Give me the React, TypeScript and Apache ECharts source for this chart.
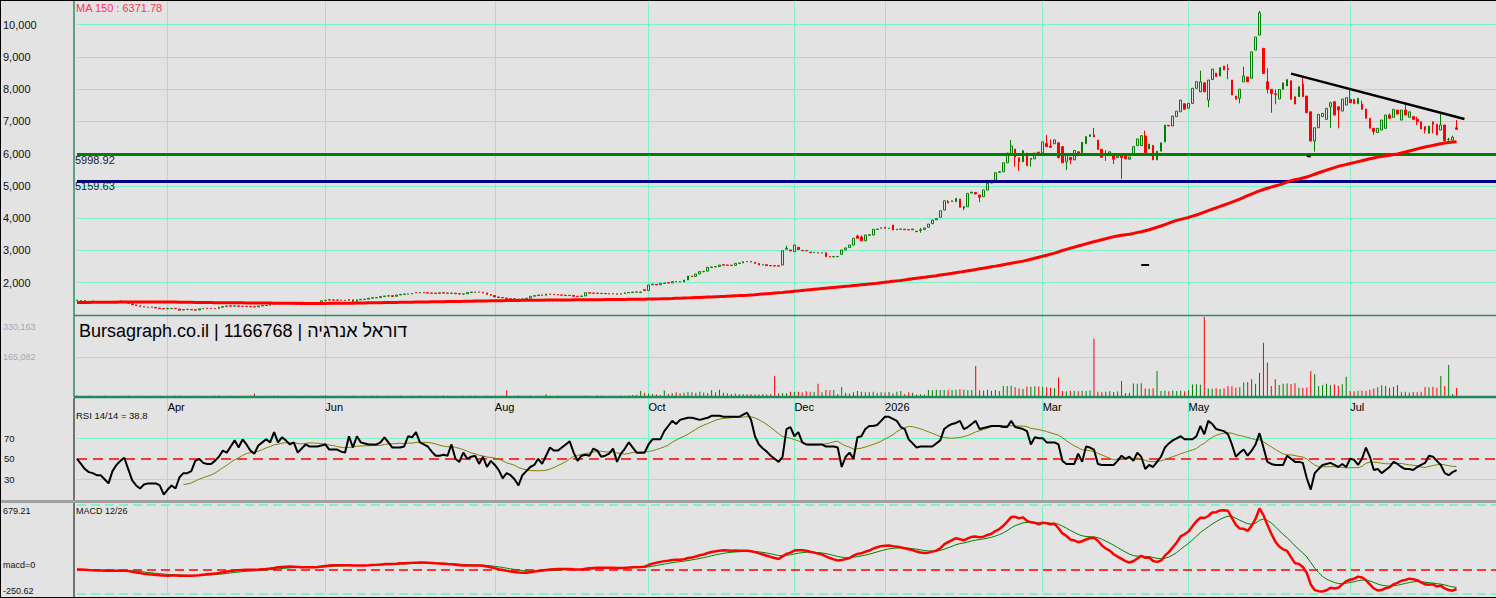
import React, { useEffect, useRef } from 'react';
import * as echarts from 'echarts';

// ---------- data ----------
const opens = [
  1450,1440,1448,1418,1428,1408,1418,1408,1412,1418,
  1418,1428,1420,1395,1350,1315,1285,1258,1238,1248,
  1235,1215,1200,1192,1198,1205,1185,1155,1168,1172,
  1160,1155,1190,1212,1208,1203,1200,1242,1262,1283,
  1276,1282,1272,1268,1262,1258,1252,1282,1294,1302,
  1332,1362,1388,1380,1372,1362,1340,1332,1326,1342,
  1362,1377,1388,1442,1472,1468,1466,1462,1458,1452,
  1470,1425,1472,1484,1492,1522,1534,1542,1572,1588,
  1598,1580,1622,1640,1648,1656,1698,1686,1698,1690,
  1682,1678,1672,1690,1682,1672,1678,1660,1648,1658,
  1700,1712,1706,1712,1685,1638,1605,1560,1542,1528,
  1508,1502,1495,1482,1500,1522,1582,1602,1622,1612,
  1652,1642,1632,1622,1615,1600,1608,1582,1576,1592,
  1690,1682,1678,1672,1668,1660,1652,1658,1646,1662,
  1690,1700,1708,1700,1785,1760,1935,1950,1935,1980,
  2005,1995,2040,2032,2025,2085,2210,2195,2275,2340,
  2360,2475,2490,2505,2560,2550,2545,2540,2600,2615,
  2650,2660,2635,2600,2550,2560,2535,2528,2524,2550,
  3040,3015,2963,3100,3005,2998,2950,2932,2935,2918,
  2932,2810,2802,2808,2880,3020,3090,3170,3450,3420,
  3300,3470,3480,3650,3690,3720,3685,3790,3640,3655,
  3660,3650,3640,3600,3620,3650,3720,3830,3950,4030,
  4255,4520,4520,4512,4596,4310,4357,4780,4800,4720,
  4667,4875,5090,5185,5420,5443,5720,5960,6145,5876,
  5750,6020,5820,5840,6050,6030,6320,6240,6310,6340,
  6220,5750,5890,5810,6060,6030,6310,6535,6580,6425,
  6140,5960,5975,5965,5880,5940,6000,5830,5960,6250,
  6250,6550,6150,6260,5810,6080,6370,6880,6860,7150,
  7300,7550,7410,7560,8030,7920,8200,7665,8300,8500,
  8410,8720,8640,8285,7790,7720,8230,8380,8340,9215,
  9680,9270,8233,7997,7860,7700,7990,8100,8264,7768,
  7768,8161,7789,7302,6394,6806,7150,7066,7457,7612,
  7457,7324,7510,7686,7686,7550,7532,7386,7098,6788,
  6660,6735,6788,7200,7129,7355,7045,7355,7130,7150,
  7066,6993,6840,6633,6990,6912,6735,6890,6440,6425,
  6806,
];

const closes = [
  1465,1450,1440,1425,1420,1415,1410,1415,1420,1425,
  1425,1420,1410,1360,1320,1290,1260,1250,1245,1240,
  1217,1200,1190,1205,1206,1195,1150,1170,1175,1160,
  1150,1190,1200,1205,1200,1195,1240,1260,1280,1275,
  1285,1270,1265,1262,1255,1250,1280,1295,1300,1330,
  1360,1385,1380,1370,1365,1340,1330,1325,1340,1360,
  1375,1385,1440,1455,1465,1460,1460,1455,1450,1480,
  1420,1470,1485,1490,1520,1535,1540,1570,1590,1595,
  1575,1620,1640,1650,1655,1670,1690,1695,1690,1680,
  1675,1670,1690,1680,1675,1680,1660,1650,1655,1700,
  1710,1705,1715,1690,1640,1610,1560,1540,1530,1505,
  1500,1495,1480,1500,1520,1580,1600,1620,1610,1650,
  1640,1630,1620,1615,1600,1610,1580,1575,1590,1690,
  1680,1675,1670,1665,1660,1650,1660,1645,1660,1690,
  1700,1710,1715,1712,1760,1930,1961,1930,1983,1992,
  1990,2035,2030,2022,2085,2209,2190,2271,2343,2355,
  2478,2490,2500,2550,2545,2540,2535,2602,2612,2653,
  2658,2640,2600,2550,2562,2530,2525,2520,2515,2994,
  3070,2985,3170,3030,2994,2988,2932,2942,2920,2928,
  2807,2800,2810,2818,3015,3080,3170,3377,3380,3300,
  3480,3490,3657,3665,3705,3690,3695,3635,3660,3665,
  3645,3640,3665,3583,3640,3700,3820,3945,3990,4233,
  4543,4470,4545,4617,4340,4360,4770,4810,4750,4650,
  4875,5083,5110,5411,5443,5720,6020,6240,5890,5750,
  6100,5630,5860,6020,5950,6370,6220,6200,6430,5875,
  5720,5960,5810,6100,6000,6360,6535,6590,6520,6135,
  5890,5990,6060,5830,5930,5880,5840,5900,6220,6460,
  6560,6030,6300,5810,6080,6340,6890,6860,7170,7320,
  7665,7380,7560,8030,8235,8230,7920,8285,8625,8390,
  8670,8600,8610,7820,7690,8000,8410,8230,9160,9620,
  10370,8490,7997,7870,7842,7990,8200,8300,7686,7541,
  8078,7768,7271,6394,6806,7221,7253,7408,7582,7200,
  7355,7696,7737,7582,7550,7720,7377,7098,6788,6683,
  6788,7045,7200,7100,7377,7230,7355,7200,7300,7066,
  6993,6766,6735,6859,6910,6580,6890,6403,6450,6510,
  6757,
];

const wickHigh: Record<number, number> = {
  180: 3150, 198: 3490, 199: 3470, 214: 3700, 221: 4560, 237: 6430, 246: 6580, 247: 6440,
  258: 6800, 261: 6110, 271: 6715, 285: 8575, 292: 8780, 296: 8700, 300: 10430, 302: 8650,
  304: 7990, 311: 8400, 318: 7612, 323: 7997, 326: 7650, 333: 7250, 337: 7540, 340: 7150,
  346: 7253, 348: 6500, 349: 6560, 350: 7045,
};
const wickLow: Record<number, number> = {
  214: 3550, 225: 4250, 229: 4500, 238: 5600, 239: 5470, 242: 5600, 251: 5500, 252: 5680,
  261: 5780, 263: 5680, 265: 5216, 287: 7440, 292: 8310, 295: 7560, 302: 7870, 303: 7271,
  304: 7530, 314: 6063, 318: 6800, 320: 6788, 329: 6590, 333: 7080, 340: 6890, 342: 6630,
  344: 6630, 348: 6400,
};

// volume in thousands of shares
const volumesK = [
  6,4,3,5,2,4,3,5,4,3,
  4,3,5,6,4,5,3,4,2,3,
  4,5,3,4,2,5,6,3,4,3,
  5,4,3,2,4,5,6,4,3,5,
  4,3,5,4,6,14,4,3,5,4,
  6,5,4,3,4,5,3,4,5,4,
  3,4,5,6,4,3,4,5,3,4,
  5,4,3,5,4,6,5,4,3,5,
  4,5,6,4,3,5,4,6,5,4,
  3,5,4,6,5,4,3,4,5,4,
  5,6,4,3,5,4,6,4,5,27,
  4,5,6,4,5,6,4,5,4,11,
  5,4,6,5,4,5,4,3,5,6,
  5,4,6,5,4,3,5,4,6,5,
  6,8,9,25,18,14,12,10,8,27,
  12,17,20,15,18,22,20,18,22,19,
  17,28,20,30,18,15,12,14,11,12,
  11,12,10,11,12,10,11,87,14,16,
  15,22,21,22,20,24,22,21,55,20,
  29,28,29,12,41,18,14,20,25,22,
  20,21,22,18,20,19,21,15,22,25,
  12,20,18,10,11,10,29,28,30,29,
  30,28,29,30,32,30,28,29,128,28,
  27,30,26,29,25,45,44,46,40,35,
  33,43,42,44,43,42,40,38,36,80,
  25,24,26,25,24,26,25,27,240,22,
  20,22,24,21,23,66,17,18,56,55,
  57,35,34,36,107,25,26,24,27,25,
  26,24,28,52,53,51,330.163,35,34,36,
  33,35,45,44,38,40,60,62,73,55,
  100,224,142,45,73,50,55,56,54,57,
  38,37,39,107,94,45,50,55,48,52,
  46,53,84,25,24,26,27,25,30,35,
  40,48,45,38,42,50,20,22,19,21,
  20,22,41,40,42,38,87,45,132,12,
  37,
];

const rsi14 = [
  50,45,40,37,36,34,34,30,26,38,
  44,48,51,40,29,24,21,25,26,26,
  26,24,15,20,24,21,32,36,36,38,
  48,50,46,45,45,48,52,58,56,62,
  68,61,69,64,58,55,63,66,69,66,
  76,66,71,68,64,66,56,60,64,62,
  62,62,63,64,59,59,59,57,56,72,
  61,72,66,65,64,64,64,66,71,66,
  61,61,61,62,72,71,76,66,64,62,
  57,53,53,54,53,64,50,47,56,50,
  52,53,45,52,42,48,44,39,31,36,
  34,30,24,34,38,42,44,50,45,53,
  61,58,58,61,64,67,56,48,53,54,
  53,60,58,52,53,55,60,47,55,60,
  66,61,56,56,56,64,69,69,69,77,
  82,87,84,88,89,90,90,89,88,89,
  90,92,92,92,91,91,91,91,91,93,
  95,88,72,64,60,57,53,50,47,52,
  79,81,72,76,66,64,64,64,64,64,
  62,62,62,61,42,52,56,50,71,72,
  79,82,82,83,87,91,91,89,87,81,
  79,69,65,61,62,62,62,62,65,68,
  79,82,84,85,87,79,81,84,87,79,
  80,81,82,82,82,81,81,87,81,80,
  79,77,64,71,70,70,66,66,66,64,
  48,45,45,45,55,47,62,61,59,45,
  44,44,44,44,48,53,50,52,48,56,
  52,40,44,42,47,52,61,65,68,70,
  72,69,69,69,72,82,74,87,84,79,
  78,77,74,64,52,56,59,53,58,64,
  75,61,47,45,44,44,44,53,50,47,
  47,46,31,20,36,40,44,45,46,44,
  42,45,42,50,49,44,50,61,52,39,
  40,36,39,42,47,45,42,40,40,39,
  42,44,46,53,52,48,44,36,34,37,
  39,
];

const ma150 = [
  1385,1387,1389,1391,1393,1394,1395,1396,1397,1398,
  1399,1400,1401,1402,1403,1404,1405,1406,1406,1406,
  1406,1405,1404,1403,1402,1400,1398,1396,1394,1392,
  1390,1388,1386,1385,1384,1383,1382,1381,1380,1379,
  1378,1377,1376,1375,1374,1373,1372,1371,1370,1369,
  1368,1367,1366,1365,1364,1363,1362,1361,1360,1359,
  1359,1359,1360,1360,1361,1362,1363,1364,1365,1366,
  1368,1370,1372,1374,1376,1378,1380,1382,1384,1386,
  1388,1390,1392,1394,1396,1398,1400,1402,1404,1406,
  1408,1410,1412,1414,1416,1418,1420,1422,1424,1427,
  1429,1431,1433,1435,1437,1439,1441,1443,1445,1447,
  1449,1451,1453,1455,1457,1458,1459,1460,1461,1462,
  1463,1464,1465,1466,1467,1468,1469,1470,1471,1472,
  1473,1474,1475,1476,1477,1478,1479,1480,1482,1484,
  1486,1488,1490,1491,1492,1494,1496,1498,1500,1503,
  1507,1511,1516,1521,1526,1531,1536,1541,1546,1551,
  1556,1561,1566,1571,1577,1583,1589,1595,1601,1608,
  1615,1623,1631,1640,1650,1660,1670,1680,1690,1700,
  1712,1724,1736,1748,1760,1772,1785,1797,1809,1821,
  1833,1845,1856,1867,1878,1889,1900,1912,1924,1936,
  1948,1960,1973,1986,2000,2014,2028,2043,2058,2073,
  2089,2105,2121,2137,2153,2169,2186,2203,2220,2238,
  2256,2274,2292,2311,2330,2350,2370,2390,2410,2431,
  2452,2473,2494,2515,2537,2559,2581,2603,2625,2648,
  2671,2700,2730,2760,2790,2820,2853,2886,2919,2955,
  3000,3035,3070,3105,3140,3172,3205,3238,3270,3300,
  3333,3366,3400,3425,3448,3470,3488,3506,3530,3556,
  3583,3611,3645,3682,3720,3760,3805,3850,3895,3935,
  3965,3995,4025,4065,4100,4145,4190,4235,4280,4323,
  4366,4410,4455,4500,4545,4595,4645,4700,4750,4800,
  4850,4890,4930,4965,5000,5035,5075,5120,5165,5195,
  5220,5250,5280,5320,5365,5410,5450,5490,5530,5570,
  5610,5640,5665,5695,5725,5755,5785,5815,5845,5870,
  5895,5915,5935,5955,5975,5995,6025,6055,6085,6115,
  6150,6180,6210,6235,6260,6285,6310,6330,6350,6362,
  6372,
];

const monthMarks = [
  { index: 23, label: 'Apr' },
  { index: 63, label: 'Jun' },
  { index: 106, label: 'Aug' },
  { index: 145, label: 'Oct' },
  { index: 182, label: 'Dec' },
  { index: 205, label: '2026' },
  { index: 245, label: 'Mar' },
  { index: 282, label: 'May' },
  { index: 323, label: 'Jul' },
];

const priceTicks = [2000, 3000, 4000, 5000, 6000, 7000, 8000, 9000, 10000];
const rsiTicks = [30, 50, 70];
const supportHigh = 5998.92;
const supportLow = 5159.63;
const maLabelValue = 6371.78;
const rsiLabelValue = 38.8;
const macdMax = 679.21;
const macdMin = -250.62;
const volumeMaxLabel = 330163;
const volumeMidLabel = 165082;
const trendPoints = [
  { index: 308, value: 8484 },
  { index: 352, value: 7078 },
];
const dashMarks = [
  { index: 270, value: 2550 }, { index: 271, value: 2550 }, { index: 272, value: 2550 },
  { index: 312, value: 5930 }, { index: 313, value: 5915 },
];

// ---------- styling ----------
const SLOTS = 361;
const BG = '#e3e3e3';
const AQUA = '#80f2c8';
const GREEN = '#008000';
const RED = '#ff0000';
const FONT = "'Liberation Sans', Arial, sans-serif";
const NARROW = "'Liberation Sans Narrow', 'Liberation Sans', Arial, sans-serif";

function ema(values: number[], period: number): number[] {
  const k = 2 / (period + 1);
  const out: number[] = [];
  let prev = values[0];
  values.forEach((v, i) => {
    prev = i === 0 ? v : prev + k * (v - prev);
    out.push(prev);
  });
  return out;
}

function fmtThousands(v: number): string {
  return String(v).replace(/\B(?=(\d{3})+(?!\d))/g, ',');
}

function buildOption() {
  const cats = Array.from({ length: SLOTS }, (_, i) => String(i));
  const monthMap = new Map(monthMarks.map((m) => [m.index, m.label]));
  const candleData = opens.map((o, i) => {
    const c = closes[i];
    return [o, c, wickLow[i] ?? Math.min(o, c), wickHigh[i] ?? Math.max(o, c)];
  });
  const volData = volumesK.map((v, i) => ({
    value: v * 1000,
    itemStyle: { color: closes[i] >= opens[i] ? GREEN : RED },
  }));
  const e12 = ema(closes, 12);
  const e26 = ema(closes, 26);
  const macd = closes.map((_, i) => e12[i] - e26[i]);
  const macdSignal = ema(macd, 9);
  const rsiSignal = rsi14.map((_, i) => {
    if (i < 27) return null;
    const w = rsi14.slice(i - 13, i + 1);
    return w.reduce((a, b) => a + b, 0) / w.length;
  });
  const trend: (number | null)[] = cats.map(() => null);
  trendPoints.forEach((p) => { trend[p.index] = p.value; });
  const dashes: (number | null)[] = cats.map(() => null);
  dashMarks.forEach((p) => { dashes[p.index] = p.value; });

  const volMax = volumeMaxLabel * 82 / 80;

  const xAxis = (gridIndex: number, labels: boolean) => ({
    type: 'category',
    gridIndex,
    data: cats,
    boundaryGap: false,
    position: labels ? 'top' : 'bottom',
    axisLine: { show: false, onZero: false },
    axisTick: { show: false },
    axisLabel: labels
      ? {
          show: true,
          inside: true,
          margin: 4,
          interval: (idx: number) => monthMap.has(idx),
          formatter: (val: string) => monthMap.get(Number(val)) ?? '',
          align: 'left',
          color: '#000',
          fontSize: 11,
          fontFamily: FONT,
        }
      : { show: false },
    splitLine: {
      show: true,
      interval: (idx: number) => monthMap.has(idx),
      lineStyle: { color: AQUA, width: 1 },
    },
  });

  const hLine = (value: number, color: string, width: number, type: any) => ({
    yAxis: value,
    lineStyle: { color, width, type, opacity: 1 },
  });
  const markLineBase = (z: number, data: any[]) => ({
    silent: true,
    symbol: ['none', 'none'],
    z,
    label: { show: false },
    emphasis: { disabled: true },
    data,
  });

  const text = (t: string, x: number, y: number, size: number, color: string, family = FONT) => ({
    type: 'text',
    x,
    y,
    z: 100,
    silent: true,
    style: { text: t, fill: color, fontSize: size, fontFamily: family, align: 'left', verticalAlign: 'middle' },
  });
  const line = (x1: number, y1: number, x2: number, y2: number, color: string, w: number, dash?: number[]) => ({
    type: 'line',
    z: 90,
    silent: true,
    shape: { x1, y1, x2, y2 },
    style: { stroke: color, lineWidth: w, lineDash: dash },
  });

  return {
    animation: false,
    backgroundColor: BG,
    textStyle: { fontFamily: FONT },
    grid: [
      { left: 77, right: 0, top: 0, height: 315 },
      { left: 77, right: 0, top: 315, height: 82 },
      { left: 77, right: 0, top: 397.3, height: 102.5 },
      { left: 77, right: 0, top: 505, height: 88.3 },
    ],
    xAxis: [xAxis(0, false), xAxis(1, false), xAxis(2, true), xAxis(3, false)],
    yAxis: [
      {
        type: 'value', gridIndex: 0, min: 1000, max: 10767, interval: 1000,
        axisLine: { show: false }, axisTick: { show: false },
        axisLabel: {
          formatter: (v: number) => (priceTicks.includes(v) ? fmtThousands(v) : ''),
          align: 'left', margin: 74, color: '#111', fontSize: 11, fontFamily: FONT,
        },
        splitLine: { show: true, lineStyle: { color: AQUA, width: 1 } },
      },
      { type: 'value', gridIndex: 1, min: 0, max: volMax, show: false, splitLine: { show: false } },
      {
        type: 'value', gridIndex: 2, min: 10, max: 110, interval: 10,
        axisLine: { show: false }, axisTick: { show: false },
        axisLabel: {
          formatter: (v: number) => (rsiTicks.includes(v) ? String(v) : ''),
          align: 'left', margin: 73, color: '#111', fontSize: 9.5, fontFamily: FONT,
        },
        splitLine: { show: false },
      },
      { type: 'value', gridIndex: 3, min: macdMin, max: macdMax, show: false, splitLine: { show: false } },
    ],
    series: [
      {
        type: 'candlestick', name: 'price', xAxisIndex: 0, yAxisIndex: 0, data: candleData,
        barWidth: 2.2, clip: false, z: 2, silent: true,
        itemStyle: { color: BG, color0: RED, borderColor: GREEN, borderColor0: RED, borderWidth: 1 },
        markLine: markLineBase(3, [
          hLine(supportHigh, GREEN, 3, 'solid'),
          hLine(supportLow, '#000080', 3, 'solid'),
        ]),
      },
      {
        type: 'line', name: 'MA 150', xAxisIndex: 0, yAxisIndex: 0, data: ma150,
        symbol: 'none', silent: true, z: 4, lineStyle: { color: RED, width: 3 },
      },
      {
        type: 'line', name: 'trend', xAxisIndex: 0, yAxisIndex: 0, data: trend, connectNulls: true,
        symbol: 'none', silent: true, z: 5, lineStyle: { color: '#000', width: 2.5 },
      },
      {
        type: 'line', name: 'marks', xAxisIndex: 0, yAxisIndex: 0, data: dashes, connectNulls: false,
        symbol: 'none', silent: true, z: 5, lineStyle: { color: '#000', width: 2 },
      },
      {
        type: 'bar', name: 'volume', xAxisIndex: 1, yAxisIndex: 1, data: volData,
        barWidth: 1, silent: true, z: 2,
        markLine: markLineBase(1, [hLine(volumeMidLabel, AQUA, 1, 'solid')]),
      },
      {
        type: 'line', name: 'rsi signal', xAxisIndex: 2, yAxisIndex: 2, data: rsiSignal,
        symbol: 'none', silent: true, z: 3, lineStyle: { color: '#808000', width: 1 },
        markLine: markLineBase(1, [
          hLine(70, AQUA, 1, 'solid'),
          hLine(30, AQUA, 1, 'solid'),
          hLine(50, RED, 1.5, [10, 6]),
        ]),
      },
      {
        type: 'line', name: 'rsi', xAxisIndex: 2, yAxisIndex: 2, data: rsi14,
        symbol: 'none', silent: true, z: 4, lineStyle: { color: '#000', width: 2 },
      },
      {
        type: 'line', name: 'macd signal', xAxisIndex: 3, yAxisIndex: 3, data: macdSignal,
        symbol: 'none', silent: true, z: 3, lineStyle: { color: GREEN, width: 1 },
        markLine: markLineBase(1, [
          hLine(macdMax - 0.5, AQUA, 1.8, [9, 5]),
          hLine(macdMin + 0.5, AQUA, 1.8, [9, 5]),
          hLine(0, RED, 1.5, [9, 5]),
        ]),
      },
      {
        type: 'line', name: 'macd', xAxisIndex: 3, yAxisIndex: 3, data: macd,
        symbol: 'none', silent: true, z: 4, lineStyle: { color: RED, width: 2.5 },
      },
    ],
    graphic: [
      // panel borders
      line(74, 0, 74, 397, '#2f8a6a', 1.5),
      line(74, 315.5, 1496, 315.5, '#2f8a6a', 1.5),
      line(74, 397, 1496, 397, '#1d8a5c', 2.5),
      line(74, 398, 74, 598, '#000', 1),
      line(0, 501.5, 1496, 501.5, '#a0a0a0', 3),
      line(0, 0.5, 1496, 0.5, '#000', 1),
      line(0.5, 0, 0.5, 598, '#000', 1),
      line(0, 597.5, 1496, 597.5, '#000', 1),
      // texts
      text(`MA 150 : ${maLabelValue}`, 76, 8, 11, '#ff3355', NARROW),
      text(String(supportHigh), 75, 159.5, 11, '#1a1a33', NARROW),
      text(String(supportLow), 75, 186.3, 11, '#1a1a33', NARROW),
      text('Bursagraph.co.il | 1166768 | דוראל אנרגיה', 79, 331, 18, '#000', FONT),
      text(fmtThousands(volumeMaxLabel), 3, 327, 9, '#a2a9b8', FONT),
      text(fmtThousands(volumeMidLabel), 3, 357, 9, '#a2a9b8', FONT),
      text(`RSI 14/14 = ${rsiLabelValue}`, 76, 415, 9.5, '#111', NARROW),
      text('MACD 12/26', 76, 510.5, 9, '#111', FONT),
      text(String(macdMax), 3, 510.5, 9, '#111', FONT),
      text('macd=0', 3, 565, 9, '#111', FONT),
      text(String(macdMin), 3, 590.5, 9, '#111', FONT),
    ],
  };
}

export default function App() {
  const ref = useRef<HTMLDivElement>(null);
  useEffect(() => {
    document.body.style.margin = '0';
    if (!ref.current) return;
    const chart = echarts.init(ref.current, null, { renderer: 'svg' });
    chart.setOption(buildOption() as any);
    return () => chart.dispose();
  }, []);
  return (
    <div
      ref={ref}
      style={{ position: 'absolute', left: 0, top: 0, width: 1496, height: 598, background: BG }}
    />
  );
}
